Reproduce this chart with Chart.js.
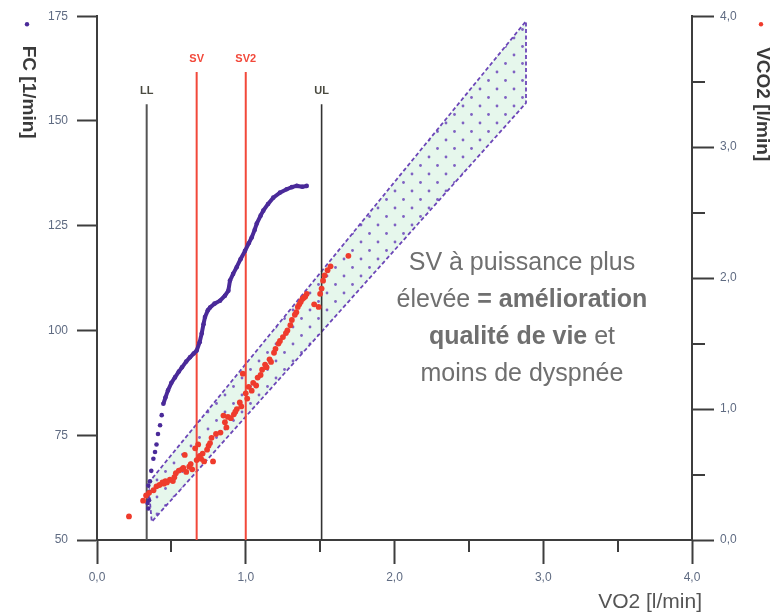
<!DOCTYPE html>
<html>
<head>
<meta charset="utf-8">
<script src="https://cdn.jsdelivr.net/npm/chart.js@4.4.1/dist/chart.umd.min.js"></script>
<style>
    html, body { margin: 0; padding: 0; background: #fff; }
    #wrap { width: 773px; height: 615px; }
</style>
</head>
<body>
<div id="wrap"><canvas id="graficoVO2" width="773" height="615"></canvas></div>
<script>
// FC [1/min] (axe gauche) en fonction de VO2 [l/min]
const fcVO2 = [0.34, 0.345, 0.34, 0.35, 0.352, 0.356, 0.345, 0.365, 0.379, 0.39, 0.40, 0.41, 0.424, 0.435, 0.446,
    0.46, 0.477, 0.50, 0.524, 0.55, 0.571, 0.60, 0.625, 0.65, 0.67, 0.69, 0.704, 0.716, 0.726, 0.745, 0.76,
    0.79, 0.827, 0.86, 0.883, 0.894, 0.915, 0.939, 0.965, 0.995, 1.02, 1.04, 1.06, 1.074, 1.10, 1.118,
    1.15, 1.185, 1.23, 1.275, 1.31, 1.343, 1.38, 1.41];
const fcValues = [58.8, 57.5, 60.5, 59.5, 61.5, 64.0, 63.0, 66.5, 69.4, 71.0, 72.8, 75.3, 77.4, 79.8, 82.5,
    84.0, 85.7, 87.5, 88.8, 90.2, 91.2, 92.6, 93.6, 94.5, 95.2, 97.2, 99.3, 101.5, 103.2, 104.8, 105.5,
    106.4, 107.1, 108.3, 109.5, 111.9, 113.5, 115.1, 117.0, 119.0, 120.8, 122.2, 124.0, 125.5, 127.4, 128.6,
    130.2, 131.7, 132.9, 133.7, 134.2, 134.5, 134.3, 134.5];

// VCO2 [l/min] (axe droit) en fonction de VO2 [l/min]
const vco2VO2 = [0.215, 0.31, 0.33, 0.35, 0.38, 0.40, 0.42, 0.44, 0.46, 0.49, 0.51, 0.53, 0.55, 0.57, 0.59,
    0.60, 0.62, 0.64, 0.66, 0.67, 0.68, 0.70, 0.72, 0.74, 0.75, 0.76, 0.77, 0.78, 0.80, 0.83, 0.85, 0.88,
    0.90, 0.92, 0.94, 0.96, 0.98, 1.00, 1.02, 1.05, 1.08, 1.11, 1.13, 1.16, 1.19, 1.22, 1.25, 1.28, 1.31,
    1.34, 1.36, 1.38, 1.40, 1.46, 1.49, 1.50, 1.53, 1.55, 1.57, 1.69,
    0.45, 0.47, 0.52, 0.58, 0.63, 0.69, 0.71, 0.86, 0.87, 0.93, 0.97, 1.01, 1.04, 1.07, 1.10, 1.14, 1.17,
    1.20, 1.23, 1.27, 1.30, 1.33, 1.35, 1.37, 1.39, 1.41, 1.51, 1.52];
const vco2Values = [0.18, 0.30, 0.34, 0.36, 0.38, 0.41, 0.42, 0.44, 0.45, 0.46, 0.45, 0.51, 0.53, 0.54, 0.65,
    0.52, 0.56, 0.54, 0.70, 0.61, 0.73, 0.62, 0.60, 0.69, 0.72, 0.74, 0.78, 0.60, 0.81, 0.82, 0.95, 0.94,
    0.93, 0.96, 1.00, 1.05, 1.27, 1.12, 1.17, 1.20, 1.24, 1.30, 1.34, 1.38, 1.43, 1.50, 1.55, 1.60, 1.68,
    1.74, 1.80, 1.84, 1.86, 1.80, 1.78, 1.88, 2.02, 2.06, 2.09, 2.17,
    0.43, 0.44, 0.48, 0.55, 0.58, 0.64, 0.66, 0.90, 0.86, 0.98, 1.02, 1.08, 1.14, 1.18, 1.26, 1.32, 1.36,
    1.46, 1.52, 1.58, 1.64, 1.72, 1.78, 1.82, 1.85, 1.88, 1.92, 1.98];

// Zone cible (polygone fermé, axe droit)
const zoneVO2 = [0.345, 2.884, 2.884, 0.368, 0.345];
const zoneVCO2 = [0.434, 3.962, 3.337, 0.139, 0.434];

// Seuils verticaux
const seuilNoms = ['LL', 'SV', 'SV2', 'UL'];
const seuilVO2 = [0.334, 0.67, 1.0, 1.51];
const seuilHaut = [154, 161.7, 161.7, 154];

// Graduations
const vo2Ticks = [0, 0.5, 1, 1.5, 2, 2.5, 3, 3.5, 4];
const fcTicks = [50, 75, 100, 125, 150, 175];
const vco2Ticks = [0, 0.5, 1, 1.5, 2, 2.5, 3, 3.5, 4];

// Texte d'annotation (morceaux [texte, gras])
const annotLignes = [
    [['SV à puissance plus', false]],
    [['élevée ', false], ['= amélioration', true]],
    [['qualité de vie', true], [' et', false]],
    [['moins de dyspnée', false]]
];
const annotVO2 = 2.857;
const annotFC = 116;

const axisColor = '#3d3d3d';
const labelColor = '#5f6b82';
const fcColor = '#4a2a99';
const vco2Color = '#ef3b2c';
const FONT = '"Liberation Sans", Arial, sans-serif';

const ctx = document.getElementById('graficoVO2').getContext('2d');

// Motif pointillé de la zone
function motifZone() {
    const c = document.createElement('canvas');
    c.width = 17; c.height = 17;
    const g = c.getContext('2d');
    g.fillStyle = '#e6f7ec';
    g.fillRect(0, 0, 17, 17);
    g.fillStyle = 'rgba(115, 80, 190, 0.9)';
    [[4, 4], [12.5, 12.5]].forEach(([x, y]) => {
        g.beginPath(); g.arc(x, y, 1.4, 0, Math.PI * 2); g.fill();
    });
    return ctx.createPattern(c, 'repeat');
}

const fmt = v => v.toFixed(1).replace('.', ',');
const zip = (xs, ys) => xs.map((x, i) => ({ x: x, y: ys[i] }));

const seuilDatasets = seuilNoms.map((nom, i) => ({
    type: 'line',
    label: nom,
    data: [{ x: seuilVO2[i], y: 50 }, { x: seuilVO2[i], y: seuilHaut[i] }],
    borderColor: (nom === 'SV' || nom === 'SV2') ? '#f2483a' : (nom === 'LL' ? '#555' : '#333'),
    borderWidth: nom === 'UL' ? 1.6 : 2,
    pointRadius: 0,
    yAxisID: 'y',
    order: 5
}));

const decor = {
    id: 'decor',
    afterDraw(chart) {
        const c = chart.ctx, a = chart.chartArea;
        const sx = chart.scales.x, sy = chart.scales.y, sy2 = chart.scales.y2;
        c.save();
        // petites graduations
        c.strokeStyle = axisColor;
        c.lineWidth = 2;
        vo2Ticks.filter(v => !Number.isInteger(v)).forEach(v => {
            const px = Math.round(sx.getPixelForValue(v));
            c.beginPath(); c.moveTo(px, a.bottom); c.lineTo(px, a.bottom + 12); c.stroke();
        });
        vco2Ticks.filter(v => !Number.isInteger(v)).forEach(v => {
            const py = Math.round(sy2.getPixelForValue(v));
            c.beginPath(); c.moveTo(a.right, py); c.lineTo(a.right + 13, py); c.stroke();
        });

        // noms des seuils
        c.font = 'bold 11px ' + FONT;
        c.textAlign = 'center';
        c.textBaseline = 'middle';
        seuilNoms.forEach((nom, i) => {
            c.fillStyle = (nom === 'SV' || nom === 'SV2') ? '#f2483a' : '#4a4a40';
            c.fillText(nom, sx.getPixelForValue(seuilVO2[i]), sy.getPixelForValue(seuilHaut[i]) - 13);
        });

        // titres des axes
        c.font = 'bold 19px ' + FONT;
        c.fillStyle = '#3a3a3a';
        c.save();
        c.translate(a.left - 69, a.top + 76);
        c.rotate(Math.PI / 2);
        c.fillText('FC [1/min]', 0, 0);
        c.restore();
        c.save();
        c.translate(a.right + 70, a.top + 88);
        c.rotate(Math.PI / 2);
        c.fillText('VCO2 [l/min]', 0, 0);
        c.restore();
        c.fillStyle = fcColor;
        c.beginPath(); c.arc(a.left - 70, a.top + 8, 2.2, 0, Math.PI * 2); c.fill();
        c.fillStyle = vco2Color;
        c.beginPath(); c.arc(a.right + 69, a.top + 8, 2.2, 0, Math.PI * 2); c.fill();

        c.font = '21px ' + FONT;
        c.fillStyle = '#555';
        c.textAlign = 'right';
        c.fillText('VO2 [l/min]', a.right + 10, a.bottom + 62);

        // annotation
        const cx = sx.getPixelForValue(annotVO2);
        const cy = sy.getPixelForValue(annotFC);
        c.fillStyle = '#6f6f6f';
        c.textAlign = 'left';
        annotLignes.forEach((runs, i) => {
            const fonts = runs.map(r => (r[1] ? 'bold ' : '') + '25px ' + FONT);
            let w = 0;
            runs.forEach((r, j) => { c.font = fonts[j]; w += c.measureText(r[0]).width; });
            let x = cx - w / 2;
            runs.forEach((r, j) => {
                c.font = fonts[j];
                c.fillText(r[0], x, cy + i * 37);
                x += c.measureText(r[0]).width;
            });
        });
        c.restore();
    }
};

const majorTick = t => (t.tick && Number.isInteger(t.tick.value)) ? axisColor : 'rgba(0,0,0,0)';

const chart = new Chart(ctx, {
    type: 'scatter',
    data: {
        datasets: [
            {
                type: 'line',
                label: 'FC',
                data: zip(fcVO2, fcValues),
                borderColor: fcColor,
                backgroundColor: fcColor,
                borderWidth: 4,
                pointRadius: 2.3,
                pointBorderWidth: 0,
                tension: 0,
                segment: {
                    borderColor: s => s.p0.parsed.y < 82 ? 'rgba(0,0,0,0)' : fcColor
                },
                yAxisID: 'y',
                order: 2
            },
            {
                label: 'VCO2',
                data: zip(vco2VO2, vco2Values),
                backgroundColor: vco2Color,
                borderWidth: 0,
                pointRadius: 2.9,
                yAxisID: 'y2',
                order: 1
            },
            {
                type: 'line',
                label: 'Zone',
                data: zip(zoneVO2, zoneVCO2),
                fill: 'shape',
                backgroundColor: motifZone(),
                borderColor: 'rgba(100, 60, 180, 0.95)',
                borderWidth: 1.8,
                borderDash: [4, 2.5],
                pointRadius: 0,
                tension: 0,
                yAxisID: 'y2',
                order: 10
            },
            ...seuilDatasets
        ]
    },
    options: {
        responsive: false,
        animation: false,
        layout: { padding: { top: 15, left: 0, right: 0, bottom: 0 } },
        plugins: {
            legend: { display: false },
            tooltip: { enabled: false }
        },
        scales: {
            x: {
                type: 'linear',
                position: 'bottom',
                min: 0, max: 4,
                afterBuildTicks: s => { s.ticks = vo2Ticks.map(v => ({ value: v })); },
                afterFit: s => { s.height = 75; },
                border: { display: true, color: axisColor, width: 2 },
                grid: { drawOnChartArea: false, drawTicks: true, tickLength: 24, tickWidth: 2, tickColor: majorTick },
                ticks: {
                    autoSkip: false, maxRotation: 0, padding: 6,
                    color: labelColor, font: { size: 12, family: FONT },
                    callback: v => Number.isInteger(v) ? fmt(v) : ''
                }
            },
            y: {
                type: 'linear',
                position: 'left',
                min: 50, max: 175,
                afterBuildTicks: s => { s.ticks = fcTicks.map(v => ({ value: v })); },
                afterFit: s => { s.width = 97; },
                border: { display: true, color: axisColor, width: 2 },
                grid: { drawOnChartArea: false, drawTicks: true, tickLength: 20, tickWidth: 2, tickColor: axisColor },
                ticks: {
                    padding: 9,
                    color: labelColor, font: { size: 12, family: FONT },
                    callback: v => String(v)
                }
            },
            y2: {
                type: 'linear',
                position: 'right',
                min: 0, max: 4,
                afterBuildTicks: s => { s.ticks = vco2Ticks.map(v => ({ value: v })); },
                afterFit: s => { s.width = 81; },
                border: { display: true, color: axisColor, width: 2 },
                grid: { drawOnChartArea: false, drawTicks: true, tickLength: 22, tickWidth: 2, tickColor: majorTick },
                ticks: {
                    autoSkip: false, padding: 6,
                    color: labelColor, font: { size: 12, family: FONT },
                    callback: v => Number.isInteger(v) ? fmt(v) : ''
                }
            }
        }
    },
    plugins: [decor]
});
</script>
</body>
</html>
